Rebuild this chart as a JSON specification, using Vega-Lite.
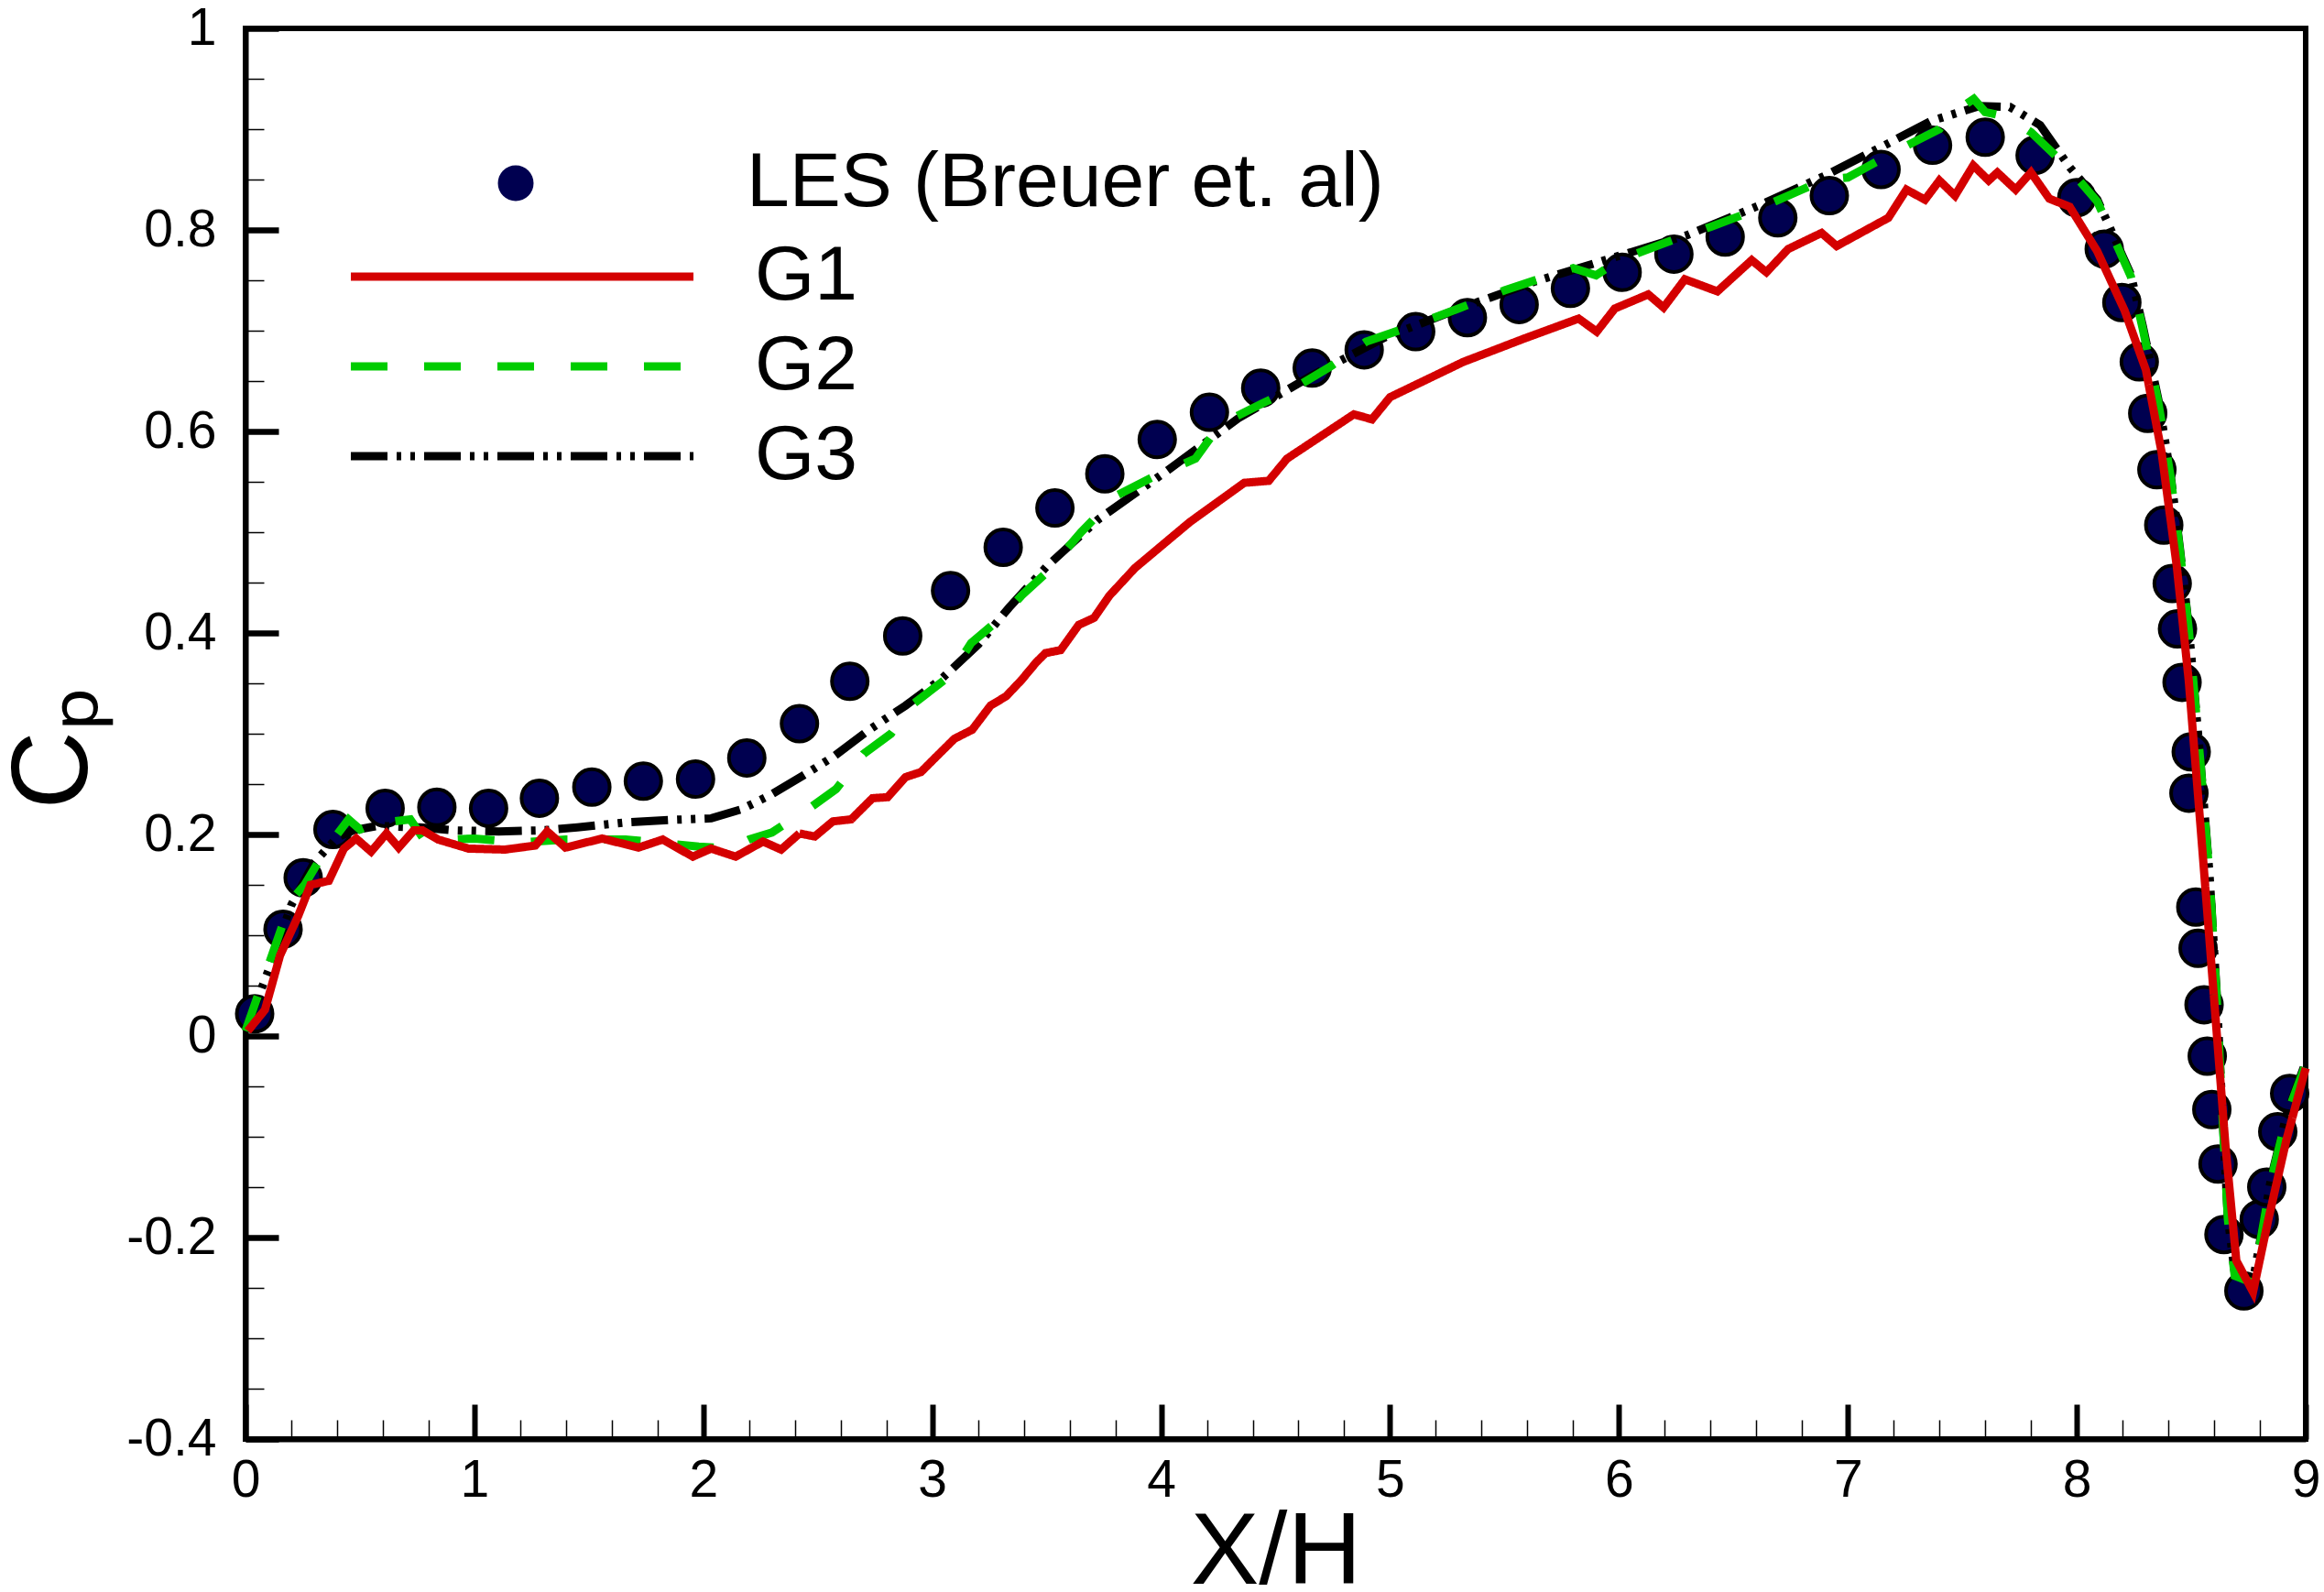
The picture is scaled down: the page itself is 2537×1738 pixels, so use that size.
{
  "$schema": "https://vega.github.io/schema/vega-lite/v6.json",
  "width": 2249,
  "height": 1540,
  "autosize": "none",
  "padding": {"left": 268, "top": 31, "right": 20, "bottom": 167},
  "background": "white",
  "datasets": {
    "les": [
      {"x": 0.04, "cp": 0.022}, {"x": 0.164, "cp": 0.106}, {"x": 0.252, "cp": 0.157},
      {"x": 0.382, "cp": 0.205}, {"x": 0.61, "cp": 0.226}, {"x": 0.836, "cp": 0.227},
      {"x": 1.062, "cp": 0.226}, {"x": 1.284, "cp": 0.236}, {"x": 1.513, "cp": 0.247},
      {"x": 1.738, "cp": 0.253}, {"x": 1.966, "cp": 0.255}, {"x": 2.19, "cp": 0.276},
      {"x": 2.42, "cp": 0.31}, {"x": 2.64, "cp": 0.352}, {"x": 2.871, "cp": 0.397},
      {"x": 3.08, "cp": 0.442}, {"x": 3.31, "cp": 0.485}, {"x": 3.536, "cp": 0.524},
      {"x": 3.754, "cp": 0.558}, {"x": 3.983, "cp": 0.592}, {"x": 4.211, "cp": 0.619},
      {"x": 4.435, "cp": 0.643}, {"x": 4.66, "cp": 0.663}, {"x": 4.887, "cp": 0.681},
      {"x": 5.112, "cp": 0.699}, {"x": 5.338, "cp": 0.713}, {"x": 5.564, "cp": 0.726},
      {"x": 5.788, "cp": 0.742}, {"x": 6.014, "cp": 0.758}, {"x": 6.24, "cp": 0.776},
      {"x": 6.464, "cp": 0.793}, {"x": 6.694, "cp": 0.812}, {"x": 6.919, "cp": 0.834},
      {"x": 7.145, "cp": 0.86}, {"x": 7.37, "cp": 0.884}, {"x": 7.6, "cp": 0.892},
      {"x": 7.818, "cp": 0.874}, {"x": 8.0, "cp": 0.832}, {"x": 8.12, "cp": 0.781},
      {"x": 8.197, "cp": 0.728}, {"x": 8.273, "cp": 0.669}, {"x": 8.31, "cp": 0.618},
      {"x": 8.35, "cp": 0.562}, {"x": 8.38, "cp": 0.507}, {"x": 8.417, "cp": 0.449},
      {"x": 8.44, "cp": 0.404}, {"x": 8.46, "cp": 0.351}, {"x": 8.5, "cp": 0.282},
      {"x": 8.49, "cp": 0.241}, {"x": 8.52, "cp": 0.128}, {"x": 8.53, "cp": 0.087},
      {"x": 8.556, "cp": 0.031}, {"x": 8.57, "cp": -0.02}, {"x": 8.59, "cp": -0.073},
      {"x": 8.617, "cp": -0.127}, {"x": 8.643, "cp": -0.197}, {"x": 8.73, "cp": -0.253},
      {"x": 8.797, "cp": -0.182}, {"x": 8.83, "cp": -0.15}, {"x": 8.878, "cp": -0.095},
      {"x": 8.93, "cp": -0.057}
    ],
    "curves": [
      {"series": "G3", "x": 0.0, "cp": 0.005}, {"series": "G3", "x": 0.1, "cp": 0.065},
      {"series": "G3", "x": 0.2, "cp": 0.13}, {"series": "G3", "x": 0.3, "cp": 0.172},
      {"series": "G3", "x": 0.4, "cp": 0.197}, {"series": "G3", "x": 0.47, "cp": 0.204},
      {"series": "G3", "x": 0.576, "cp": 0.2085}, {"series": "G3", "x": 0.762, "cp": 0.207},
      {"series": "G3", "x": 0.921, "cp": 0.204}, {"series": "G3", "x": 1.106, "cp": 0.203},
      {"series": "G3", "x": 1.292, "cp": 0.204}, {"series": "G3", "x": 1.45, "cp": 0.207},
      {"series": "G3", "x": 1.662, "cp": 0.212}, {"series": "G3", "x": 1.876, "cp": 0.2146},
      {"series": "G3", "x": 2.035, "cp": 0.216}, {"series": "G3", "x": 2.167, "cp": 0.225},
      {"series": "G3", "x": 2.3, "cp": 0.24}, {"series": "G3", "x": 2.433, "cp": 0.258},
      {"series": "G3", "x": 2.567, "cp": 0.277}, {"series": "G3", "x": 2.725, "cp": 0.304},
      {"series": "G3", "x": 2.884, "cp": 0.328}, {"series": "G3", "x": 3.043, "cp": 0.355},
      {"series": "G3", "x": 3.203, "cp": 0.389}, {"series": "G3", "x": 3.335, "cp": 0.425},
      {"series": "G3", "x": 3.5, "cp": 0.466}, {"series": "G3", "x": 3.727, "cp": 0.513},
      {"series": "G3", "x": 4.02, "cp": 0.56}, {"series": "G3", "x": 4.337, "cp": 0.613},
      {"series": "G3", "x": 4.655, "cp": 0.655}, {"series": "G3", "x": 4.974, "cp": 0.693},
      {"series": "G3", "x": 5.292, "cp": 0.721}, {"series": "G3", "x": 5.636, "cp": 0.749},
      {"series": "G3", "x": 5.982, "cp": 0.773}, {"series": "G3", "x": 6.3, "cp": 0.795},
      {"series": "G3", "x": 6.62, "cp": 0.825}, {"series": "G3", "x": 6.911, "cp": 0.855},
      {"series": "G3", "x": 7.177, "cp": 0.886}, {"series": "G3", "x": 7.362, "cp": 0.908},
      {"series": "G3", "x": 7.575, "cp": 0.923}, {"series": "G3", "x": 7.708, "cp": 0.922},
      {"series": "G3", "x": 7.84, "cp": 0.904}, {"series": "G3", "x": 7.97, "cp": 0.862},
      {"series": "G3", "x": 8.09, "cp": 0.83}, {"series": "G3", "x": 8.236, "cp": 0.756},
      {"series": "G3", "x": 8.288, "cp": 0.705}, {"series": "G3", "x": 8.356, "cp": 0.632},
      {"series": "G3", "x": 8.41, "cp": 0.557}, {"series": "G3", "x": 8.45, "cp": 0.485},
      {"series": "G3", "x": 8.49, "cp": 0.404}, {"series": "G3", "x": 8.54, "cp": 0.274},
      {"series": "G3", "x": 8.58, "cp": 0.16}, {"series": "G3", "x": 8.61, "cp": 0.047},
      {"series": "G3", "x": 8.636, "cp": -0.075}, {"series": "G3", "x": 8.66, "cp": -0.18},
      {"series": "G3", "x": 8.69, "cp": -0.235}, {"series": "G3", "x": 8.77, "cp": -0.243},
      {"series": "G3", "x": 8.85, "cp": -0.14}, {"series": "G3", "x": 8.92, "cp": -0.075},
      {"series": "G3", "x": 9.0, "cp": -0.026},

      {"series": "G2", "x": 0.0, "cp": 0.005}, {"series": "G2", "x": 0.1, "cp": 0.07},
      {"series": "G2", "x": 0.2, "cp": 0.135}, {"series": "G2", "x": 0.258, "cp": 0.15},
      {"series": "G2", "x": 0.337, "cp": 0.18}, {"series": "G2", "x": 0.4, "cp": 0.2},
      {"series": "G2", "x": 0.45, "cp": 0.215}, {"series": "G2", "x": 0.5, "cp": 0.205},
      {"series": "G2", "x": 0.55, "cp": 0.21}, {"series": "G2", "x": 0.6, "cp": 0.205},
      {"series": "G2", "x": 0.65, "cp": 0.213}, {"series": "G2", "x": 0.72, "cp": 0.215},
      {"series": "G2", "x": 0.78, "cp": 0.195}, {"series": "G2", "x": 0.9, "cp": 0.195},
      {"series": "G2", "x": 1.0, "cp": 0.196}, {"series": "G2", "x": 1.2, "cp": 0.192},
      {"series": "G2", "x": 1.4, "cp": 0.195}, {"series": "G2", "x": 1.5, "cp": 0.195},
      {"series": "G2", "x": 1.66, "cp": 0.195}, {"series": "G2", "x": 1.8, "cp": 0.192},
      {"series": "G2", "x": 1.98, "cp": 0.188}, {"series": "G2", "x": 2.12, "cp": 0.186},
      {"series": "G2", "x": 2.2, "cp": 0.195}, {"series": "G2", "x": 2.3, "cp": 0.202},
      {"series": "G2", "x": 2.47, "cp": 0.227}, {"series": "G2", "x": 2.58, "cp": 0.245},
      {"series": "G2", "x": 2.7, "cp": 0.28}, {"series": "G2", "x": 2.82, "cp": 0.3},
      {"series": "G2", "x": 2.92, "cp": 0.33}, {"series": "G2", "x": 3.08, "cp": 0.358},
      {"series": "G2", "x": 3.17, "cp": 0.39}, {"series": "G2", "x": 3.29, "cp": 0.413},
      {"series": "G2", "x": 3.39, "cp": 0.437}, {"series": "G2", "x": 3.5, "cp": 0.46},
      {"series": "G2", "x": 3.65, "cp": 0.5}, {"series": "G2", "x": 3.81, "cp": 0.537},
      {"series": "G2", "x": 3.966, "cp": 0.555}, {"series": "G2", "x": 4.15, "cp": 0.573},
      {"series": "G2", "x": 4.258, "cp": 0.607}, {"series": "G2", "x": 4.443, "cp": 0.628},
      {"series": "G2", "x": 4.575, "cp": 0.642}, {"series": "G2", "x": 4.736, "cp": 0.664},
      {"series": "G2", "x": 4.895, "cp": 0.689}, {"series": "G2", "x": 5.1, "cp": 0.705},
      {"series": "G2", "x": 5.3, "cp": 0.722}, {"series": "G2", "x": 5.5, "cp": 0.74},
      {"series": "G2", "x": 5.7, "cp": 0.755}, {"series": "G2", "x": 5.8, "cp": 0.762},
      {"series": "G2", "x": 5.9, "cp": 0.755}, {"series": "G2", "x": 6.0, "cp": 0.77},
      {"series": "G2", "x": 6.2, "cp": 0.787}, {"series": "G2", "x": 6.4, "cp": 0.803},
      {"series": "G2", "x": 6.6, "cp": 0.82}, {"series": "G2", "x": 6.8, "cp": 0.84},
      {"series": "G2", "x": 6.9, "cp": 0.85}, {"series": "G2", "x": 7.0, "cp": 0.852},
      {"series": "G2", "x": 7.2, "cp": 0.877}, {"series": "G2", "x": 7.4, "cp": 0.9},
      {"series": "G2", "x": 7.45, "cp": 0.915}, {"series": "G2", "x": 7.55, "cp": 0.93},
      {"series": "G2", "x": 7.6, "cp": 0.917}, {"series": "G2", "x": 7.7, "cp": 0.912},
      {"series": "G2", "x": 7.8, "cp": 0.897}, {"series": "G2", "x": 7.97, "cp": 0.86},
      {"series": "G2", "x": 8.09, "cp": 0.828}, {"series": "G2", "x": 8.236, "cp": 0.754},
      {"series": "G2", "x": 8.288, "cp": 0.702}, {"series": "G2", "x": 8.356, "cp": 0.629},
      {"series": "G2", "x": 8.41, "cp": 0.555}, {"series": "G2", "x": 8.45, "cp": 0.483},
      {"series": "G2", "x": 8.49, "cp": 0.402}, {"series": "G2", "x": 8.54, "cp": 0.272},
      {"series": "G2", "x": 8.58, "cp": 0.158}, {"series": "G2", "x": 8.61, "cp": 0.045},
      {"series": "G2", "x": 8.636, "cp": -0.077}, {"series": "G2", "x": 8.66, "cp": -0.182},
      {"series": "G2", "x": 8.69, "cp": -0.238}, {"series": "G2", "x": 8.77, "cp": -0.245},
      {"series": "G2", "x": 8.85, "cp": -0.142}, {"series": "G2", "x": 8.92, "cp": -0.077},
      {"series": "G2", "x": 9.0, "cp": -0.028},

      {"series": "G1", "x": 0.01, "cp": 0.005}, {"series": "G1", "x": 0.085, "cp": 0.026},
      {"series": "G1", "x": 0.151, "cp": 0.08}, {"series": "G1", "x": 0.23, "cp": 0.119},
      {"series": "G1", "x": 0.284, "cp": 0.15}, {"series": "G1", "x": 0.364, "cp": 0.154},
      {"series": "G1", "x": 0.43, "cp": 0.186}, {"series": "G1", "x": 0.483, "cp": 0.196},
      {"series": "G1", "x": 0.549, "cp": 0.183}, {"series": "G1", "x": 0.616, "cp": 0.201},
      {"series": "G1", "x": 0.669, "cp": 0.187}, {"series": "G1", "x": 0.735, "cp": 0.204},
      {"series": "G1", "x": 0.774, "cp": 0.204}, {"series": "G1", "x": 0.841, "cp": 0.195},
      {"series": "G1", "x": 0.974, "cp": 0.186}, {"series": "G1", "x": 1.133, "cp": 0.185},
      {"series": "G1", "x": 1.266, "cp": 0.189}, {"series": "G1", "x": 1.318, "cp": 0.203},
      {"series": "G1", "x": 1.398, "cp": 0.187}, {"series": "G1", "x": 1.558, "cp": 0.196},
      {"series": "G1", "x": 1.717, "cp": 0.187}, {"series": "G1", "x": 1.823, "cp": 0.195},
      {"series": "G1", "x": 1.954, "cp": 0.178}, {"series": "G1", "x": 2.034, "cp": 0.186},
      {"series": "G1", "x": 2.141, "cp": 0.178}, {"series": "G1", "x": 2.261, "cp": 0.193},
      {"series": "G1", "x": 2.34, "cp": 0.185}, {"series": "G1", "x": 2.42, "cp": 0.201},
      {"series": "G1", "x": 2.487, "cp": 0.198}, {"series": "G1", "x": 2.566, "cp": 0.213},
      {"series": "G1", "x": 2.646, "cp": 0.215}, {"series": "G1", "x": 2.739, "cp": 0.236},
      {"series": "G1", "x": 2.805, "cp": 0.237}, {"series": "G1", "x": 2.884, "cp": 0.257},
      {"series": "G1", "x": 2.951, "cp": 0.262}, {"series": "G1", "x": 3.017, "cp": 0.277},
      {"series": "G1", "x": 3.097, "cp": 0.295}, {"series": "G1", "x": 3.175, "cp": 0.304},
      {"series": "G1", "x": 3.255, "cp": 0.328}, {"series": "G1", "x": 3.322, "cp": 0.337},
      {"series": "G1", "x": 3.389, "cp": 0.353}, {"series": "G1", "x": 3.455, "cp": 0.371},
      {"series": "G1", "x": 3.495, "cp": 0.38}, {"series": "G1", "x": 3.561, "cp": 0.383},
      {"series": "G1", "x": 3.64, "cp": 0.408}, {"series": "G1", "x": 3.707, "cp": 0.415},
      {"series": "G1", "x": 3.774, "cp": 0.437}, {"series": "G1", "x": 3.886, "cp": 0.4645},
      {"series": "G1", "x": 4.125, "cp": 0.51}, {"series": "G1", "x": 4.363, "cp": 0.549},
      {"series": "G1", "x": 4.47, "cp": 0.551}, {"series": "G1", "x": 4.55, "cp": 0.573},
      {"series": "G1", "x": 4.842, "cp": 0.617}, {"series": "G1", "x": 4.921, "cp": 0.612},
      {"series": "G1", "x": 5.0, "cp": 0.634}, {"series": "G1", "x": 5.32, "cp": 0.669},
      {"series": "G1", "x": 5.584, "cp": 0.692}, {"series": "G1", "x": 5.824, "cp": 0.712},
      {"series": "G1", "x": 5.903, "cp": 0.699}, {"series": "G1", "x": 5.982, "cp": 0.722},
      {"series": "G1", "x": 6.128, "cp": 0.736}, {"series": "G1", "x": 6.195, "cp": 0.723},
      {"series": "G1", "x": 6.288, "cp": 0.751}, {"series": "G1", "x": 6.43, "cp": 0.739},
      {"series": "G1", "x": 6.58, "cp": 0.77}, {"series": "G1", "x": 6.644, "cp": 0.758},
      {"series": "G1", "x": 6.739, "cp": 0.781}, {"series": "G1", "x": 6.885, "cp": 0.797},
      {"series": "G1", "x": 6.951, "cp": 0.784}, {"series": "G1", "x": 7.177, "cp": 0.812},
      {"series": "G1", "x": 7.256, "cp": 0.84}, {"series": "G1", "x": 7.337, "cp": 0.83},
      {"series": "G1", "x": 7.4, "cp": 0.849}, {"series": "G1", "x": 7.468, "cp": 0.834},
      {"series": "G1", "x": 7.548, "cp": 0.864}, {"series": "G1", "x": 7.615, "cp": 0.849},
      {"series": "G1", "x": 7.653, "cp": 0.857}, {"series": "G1", "x": 7.733, "cp": 0.84},
      {"series": "G1", "x": 7.8, "cp": 0.857}, {"series": "G1", "x": 7.88, "cp": 0.831},
      {"series": "G1", "x": 7.969, "cp": 0.823}, {"series": "G1", "x": 8.089, "cp": 0.779},
      {"series": "G1", "x": 8.209, "cp": 0.72}, {"series": "G1", "x": 8.302, "cp": 0.661},
      {"series": "G1", "x": 8.37, "cp": 0.58}, {"series": "G1", "x": 8.437, "cp": 0.466},
      {"series": "G1", "x": 8.489, "cp": 0.353}, {"series": "G1", "x": 8.541, "cp": 0.207},
      {"series": "G1", "x": 8.597, "cp": 0.045}, {"series": "G1", "x": 8.65, "cp": -0.11},
      {"series": "G1", "x": 8.697, "cp": -0.223}, {"series": "G1", "x": 8.77, "cp": -0.254},
      {"series": "G1", "x": 8.837, "cp": -0.182}, {"series": "G1", "x": 8.917, "cp": -0.102},
      {"series": "G1", "x": 9.0, "cp": -0.032}
    ]
  },
  "encoding": {
    "x": {
      "field": "x",
      "type": "quantitative",
      "scale": {"domain": [0, 9], "nice": false, "zero": false},
      "axis": {
        "title": "X/H",
        "titleFont": "Liberation Sans",
        "titleFontSize": 112,
        "titleFontWeight": "normal",
        "titleColor": "black",
        "titleBaseline": "alphabetic",
        "titleY": 157,
        "values": [0, 0.2, 0.4, 0.6, 0.8, 1, 1.2, 1.4, 1.6, 1.8, 2, 2.2, 2.4, 2.6, 2.8, 3, 3.2, 3.4, 3.6, 3.8, 4, 4.2, 4.4, 4.6, 4.8, 5, 5.2, 5.4, 5.6, 5.8, 6, 6.2, 6.4, 6.6, 6.8, 7, 7.2, 7.4, 7.6, 7.8, 8, 8.2, 8.4, 8.6, 8.8, 9],
        "labelExpr": "datum.value % 1 === 0 ? toString(datum.value) : ''",
        "labelFont": "Liberation Sans",
        "labelFontSize": 57,
        "labelColor": "black",
        "labelPadding": 55,
        "labelFlush": false,
        "labelOverlap": false,
        "labelBound": false,
        "grid": false,
        "domainColor": "black",
        "domainWidth": 6,
        "tickColor": "black",
        "tickSize": {"condition": {"test": "datum.value % 1 === 0", "value": -38}, "value": -21},
        "tickWidth": {"condition": {"test": "datum.value % 1 === 0", "value": 6}, "value": 1.5}
      }
    },
    "y": {
      "field": "cp",
      "type": "quantitative",
      "scale": {"domain": [-0.4, 1], "nice": false, "zero": false},
      "axis": {
        "title": "Cₚ",
        "titleFont": "Liberation Sans",
        "titleFontSize": 118,
        "titleFontWeight": "normal",
        "titleColor": "black",
        "titleBaseline": "alphabetic",
        "titleX": -174,
        "titleY": 786,
        "values": [-0.4, -0.35, -0.3, -0.25, -0.2, -0.15, -0.1, -0.05, 0, 0.05, 0.1, 0.15, 0.2, 0.25, 0.3, 0.35, 0.4, 0.45, 0.5, 0.55, 0.6, 0.65, 0.7, 0.75, 0.8, 0.85, 0.9, 0.95, 1],
        "labelExpr": "abs(datum.value * 5 - round(datum.value * 5)) < 0.001 ? toString(round(datum.value * 10) / 10) : ''",
        "labelFont": "Liberation Sans",
        "labelFontSize": 57,
        "labelColor": "black",
        "labelPadding": 68,
        "labelFlush": false,
        "labelOverlap": false,
        "labelBound": false,
        "grid": false,
        "domainColor": "black",
        "domainWidth": 6,
        "tickColor": "black",
        "tickSize": {"condition": {"test": "abs(datum.value * 5 - round(datum.value * 5)) < 0.001", "value": -36}, "value": -20},
        "tickWidth": {"condition": {"test": "abs(datum.value * 5 - round(datum.value * 5)) < 0.001", "value": 6.5}, "value": 1.5}
      }
    }
  },
  "layer": [
    {
      "data": {"name": "les"},
      "transform": [{"calculate": "'LES (Breuer et. al)'", "as": "series"}],
      "mark": {"type": "point", "filled": true, "color": "#000050", "stroke": "black", "strokeWidth": 4, "size": 1520, "opacity": 1},
      "encoding": {
        "shape": {
          "field": "series",
          "type": "nominal",
          "scale": {"range": ["circle"]},
          "legend": {
            "title": null,
            "orient": "none",
            "legendX": 253,
            "legendY": 127,
            "padding": 0,
            "symbolSize": 1520,
            "symbolFillColor": "#000050",
            "symbolStrokeColor": "black",
            "symbolStrokeWidth": 4,
            "symbolOpacity": 1,
            "labelFont": "Liberation Sans",
            "labelFontSize": 84,
            "labelColor": "black",
            "labelLimit": 2000,
            "labelOffset": 210
          }
        }
      }
    },
    {
      "data": {"name": "curves"},
      "mark": {"type": "line", "strokeWidth": 9, "strokeCap": "butt", "strokeJoin": "miter"},
      "encoding": {
        "detail": {"field": "series"},
        "color": {
          "field": "series",
          "type": "nominal",
          "scale": {"domain": ["G1", "G2", "G3"], "range": ["#d40000", "#00cc00", "#000000"]},
          "legend": {
            "title": null,
            "orient": "none",
            "legendX": 260,
            "legendY": 229,
            "padding": 0,
            "rowPadding": 14,
            "symbolType": "M-8,0H8",
            "symbolSize": 2186,
            "symbolStrokeWidth": 9,
            "labelFont": "Liberation Sans",
            "labelFontSize": 84,
            "labelColor": "black",
            "labelLimit": 2000,
            "labelOffset": 212
          }
        },
        "strokeDash": {
          "field": "series",
          "type": "nominal",
          "scale": {"domain": ["G1", "G2", "G3"], "range": [[1, 0], [40, 40], [40, 10, 5, 10, 5, 10]]},
          "legend": {
            "title": null,
            "orient": "none",
            "legendX": 260,
            "legendY": 229,
            "padding": 0,
            "rowPadding": 14,
            "symbolType": "M-8,0H8",
            "symbolSize": 2186,
            "symbolStrokeWidth": 9,
            "labelFont": "Liberation Sans",
            "labelFontSize": 84,
            "labelColor": "black",
            "labelLimit": 2000,
            "labelOffset": 212
          }
        }
      }
    }
  ],
  "config": {
    "view": {"stroke": "black", "strokeWidth": 6},
    "font": "Liberation Sans"
  }
}
